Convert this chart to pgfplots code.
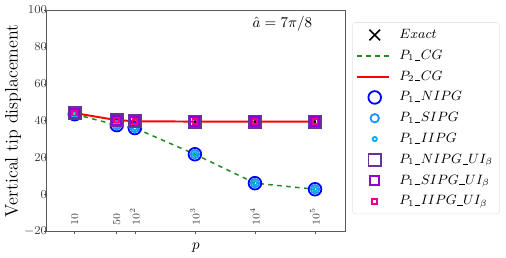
\documentclass[border=0pt]{standalone}
\usepackage{pgfplots}
\pgfplotsset{compat=1.18}
\definecolor{cgreen}{RGB}{34,139,34}
\definecolor{dodger}{RGB}{30,144,255}
\definecolor{rpurple}{RGB}{102,51,153}
\definecolor{dviolet}{RGB}{148,0,211}
\newcommand{\us}{\mbox{\kern0.3pt\rule[-0.6pt]{3.6pt}{0.4pt}\kern0.3pt}}
\pgfplotsset{
  markleg/.style={legend image code/.code={\draw[##1] plot coordinates {(0.41cm,0cm)};}},
}
\begin{document}
\begin{tikzpicture}
\begin{axis}[
  name=ax,
  scale only axis,
  width=198.7pt, height=147.3pt,
  xmode=log,
  xmin=3.4, xmax=3.16e5,
  ymin=-20, ymax=100,
  ytick={-20,0,20,40,60,80,100},
  xtick={10,50,100,1000,10000,100000},
  xticklabels={10,50,$10^2$,$10^3$,$10^4$,$10^5$},
  xticklabel style={rotate=90, anchor=west, font=\scriptsize, text=black!75},
  xticklabel shift=-2.5pt,
  yticklabel style={font=\footnotesize, text=black!75, inner sep=0.5pt, xshift=3pt},
  tick pos=left,
  tick align=outside,
  major tick length=2pt,
  minor tick length=0pt,
  axis line style={black!65},
  every tick/.style={black!65},
  xlabel={$p$},
  ylabel={Vertical tip displacement},
  xlabel style={font=\normalsize, at={(axis description cs:0.5,-0.03)}, anchor=north},
  ylabel style={font=\large, at={(axis description cs:-0.068,0.5)}, anchor=south},
  legend style={at={(1.0,0.945)}, anchor=north west, draw=black!10, rounded corners=2pt,
    font=\fontsize{8.8}{10}\selectfont, row sep=2.2pt, inner sep=2.5pt, xshift=4.7pt,
    /tikz/every odd column/.append style={column sep=4pt}},
  legend cell align=left,
]
\addplot[only marks, mark=x, mark size=0.8pt, black, line width=0.6pt,
  legend image code/.code={\draw[black, line width=1.1pt] plot[mark=x, mark size=5pt] coordinates {(0.41cm,0cm)};}]
  coordinates {(1000,39.5) (10000,39.5) (100000,39.5)};
\addlegendentry{$Exact$}
\addplot[color=cgreen, dashed, line width=1pt,
  legend image code/.code={\draw[cgreen, dashed, line width=1pt] (0cm,0cm) -- (0.75cm,0cm);
    \draw[white, line width=0.01pt] (0cm,0cm) -- (0cm,0cm);}]
  coordinates {(10,43.5) (50,37.6) (100,36) (1000,21.8) (10000,6.1) (100000,2.8)};
\addlegendentry{$P_1\us CG$}
\addplot[forget plot, white, line width=0.01pt] coordinates {(100000,2.8) (100000,2.8)};
\addplot[color=red, line width=1.3pt,
  legend image code/.code={\draw[red, line width=1.4pt] (0cm,0cm) -- (0.75cm,0cm);}]
  coordinates {(10,44.1) (50,40.3) (100,39.7) (1000,39.5) (10000,39.5) (100000,39.5)};
\addlegendentry{$P_2\us CG$}
\addplot[only marks, mark=o, mark size=4.2pt, blue, line width=1.2pt, markleg] coordinates {(10,43.5) (50,37.6) (100,36) (1000,21.8) (10000,6.1) (100000,2.8)};
\addlegendentry{$P_1\us NIPG$}
\addplot[only marks, mark=o, mark size=2.8pt, dodger, line width=1.2pt, markleg] coordinates {(10,43.5) (50,37.6) (100,36) (1000,21.8) (10000,6.1) (100000,2.8)};
\addlegendentry{$P_1\us SIPG$}
\addplot[only marks, mark=o, mark size=1.4pt, cyan, line width=1.2pt, markleg] coordinates {(10,43.5) (50,37.6) (100,36) (1000,21.8) (10000,6.1) (100000,2.8)};
\addlegendentry{$P_1\us IIPG$}
\addplot[only marks, mark=square, mark size=4.1pt, rpurple, line width=1.2pt, markleg] coordinates {(10,44.1) (50,40.3) (100,39.7) (1000,39.5) (10000,39.5) (100000,39.5)};
\addlegendentry{$P_1\us NIPG\us UI_\beta$}
\addplot[only marks, mark=square, mark size=2.9pt, dviolet, line width=1.2pt, markleg] coordinates {(10,44.1) (50,40.3) (100,39.7) (1000,39.5) (10000,39.5) (100000,39.5)};
\addlegendentry{$P_1\us SIPG\us UI_\beta$}
\addplot[only marks, mark=square, mark size=1.6pt, magenta, line width=1.2pt, markleg] coordinates {(10,44.1) (50,40.3) (100,39.7) (1000,39.5) (10000,39.5) (100000,39.5)};
\addlegendentry{$P_1\us IIPG\us UI_\beta$}
\addplot[only marks, mark=x, mark size=0.8pt, black, line width=0.6pt, forget plot] coordinates {(1000,39.5) (10000,39.5) (100000,39.5)};
\node[font=\normalsize] at (rel axis cs:0.79,0.94) {$\hat{a}=7\pi/8$};
\end{axis}
\path ([yshift=6.7pt]ax.north) ([yshift=-16.6pt]ax.south);
\path ([xshift=4pt]current bounding box.east);
\end{tikzpicture}
\end{document}
